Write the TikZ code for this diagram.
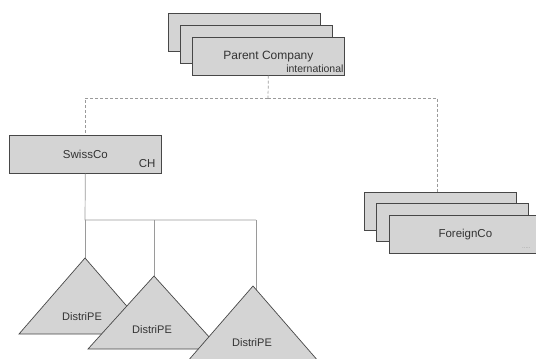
\documentclass[tikz,border=0pt]{standalone}
\usepackage{fontspec}
\setmainfont{Liberation Sans}
\definecolor{boxfill}{HTML}{D4D4D4}
\definecolor{boxline}{HTML}{474747}
\definecolor{txt}{HTML}{333333}
\definecolor{wire}{HTML}{9A9A9A}
\begin{document}
\begin{tikzpicture}[x=1pt,y=-1pt,
  entity/.style={draw=boxline,fill=boxfill,line width=0.7pt,minimum width=152pt,
    minimum height=38pt,inner sep=0pt,anchor=north west,text=txt,font=\fontsize{11.5}{13}\selectfont},
  tag/.style={text=txt,inner sep=0pt},
  tri/.style={draw=boxline,fill=boxfill,line width=0.7pt,line join=miter},
  tritext/.style={text=txt,font=\fontsize{11}{13}\selectfont,inner sep=0pt},
  link/.style={draw=wire,line width=0.7pt},
  dlink/.style={link,dash pattern=on 3pt off 2pt}]
\useasboundingbox (0,0) rectangle (536,359);
\clip (0,0) rectangle (536,359);

% parent company stack
\node[entity] (pc3) at (168,13) {};
\node[entity] (pc2) at (180,25) {};
\node[entity,font=\fontsize{12}{14}\selectfont] (pc1) at (192,37) {Parent Company};
\node[tag,anchor=south east,font=\fontsize{10.5}{12}\selectfont] (pcint) at ([xshift=-1pt,yshift=3pt]pc1.south east) {international};

% Swiss company
\node[entity] (swiss) at (9,135) {SwissCo};
\node[tag,anchor=south east,font=\fontsize{11.5}{13}\selectfont] (ch) at ([xshift=-6pt,yshift=6pt]swiss.south east) {CH};

% foreign company stack
\node[entity] (fc3) at (364,192) {};
\node[entity] (fc2) at (376,203) {};
\node[entity] (fc1) at (389,215) {ForeignCo};
\node[tag,anchor=south east,font=\fontsize{6}{7}\selectfont,text=wire] (fcdots) at ([xshift=-11pt,yshift=5pt]fc1.south east) {.....};

% ownership connectors (dashed)
\coordinate (split) at (268,98);
\draw[dlink] (pc1.south) -- (split);
\draw[dlink] (split) -| (swiss.north);
\draw[dlink] (split) -| ([xshift=-3pt]fc3.north);

% distribution entities: apexes and branch points
\coordinate (t1) at (85,258);
\coordinate (t2) at (154,276);
\coordinate (t3) at (253,286);
\coordinate (bus) at (85,220);
\coordinate (b2) at (154,220);
\coordinate (b3) at (256,220);
\coordinate (t3e) at (256,292);

\draw[link] (swiss.south) -- (bus) -- (b3);
\draw[link] (bus) -- (t1);
\draw[link] (b2) -- (t2);
\draw[link] (b3) -- (t3e);

\draw[tri] (t1) -- ++(-66,76) -- ++(132,0) -- cycle;
\node[tritext] (d1) at (82,317) {DistriPE};
\draw[tri] (t2) -- ++(-66,73) -- ++(132,0) -- cycle;
\node[tritext] (d2) at (152,330) {DistriPE};
\draw[tri] (t3) -- ++(-66,76) -- ++(132,0) -- cycle;
\node[tritext] (d3) at (252,343) {DistriPE};
\end{tikzpicture}
\end{document}
